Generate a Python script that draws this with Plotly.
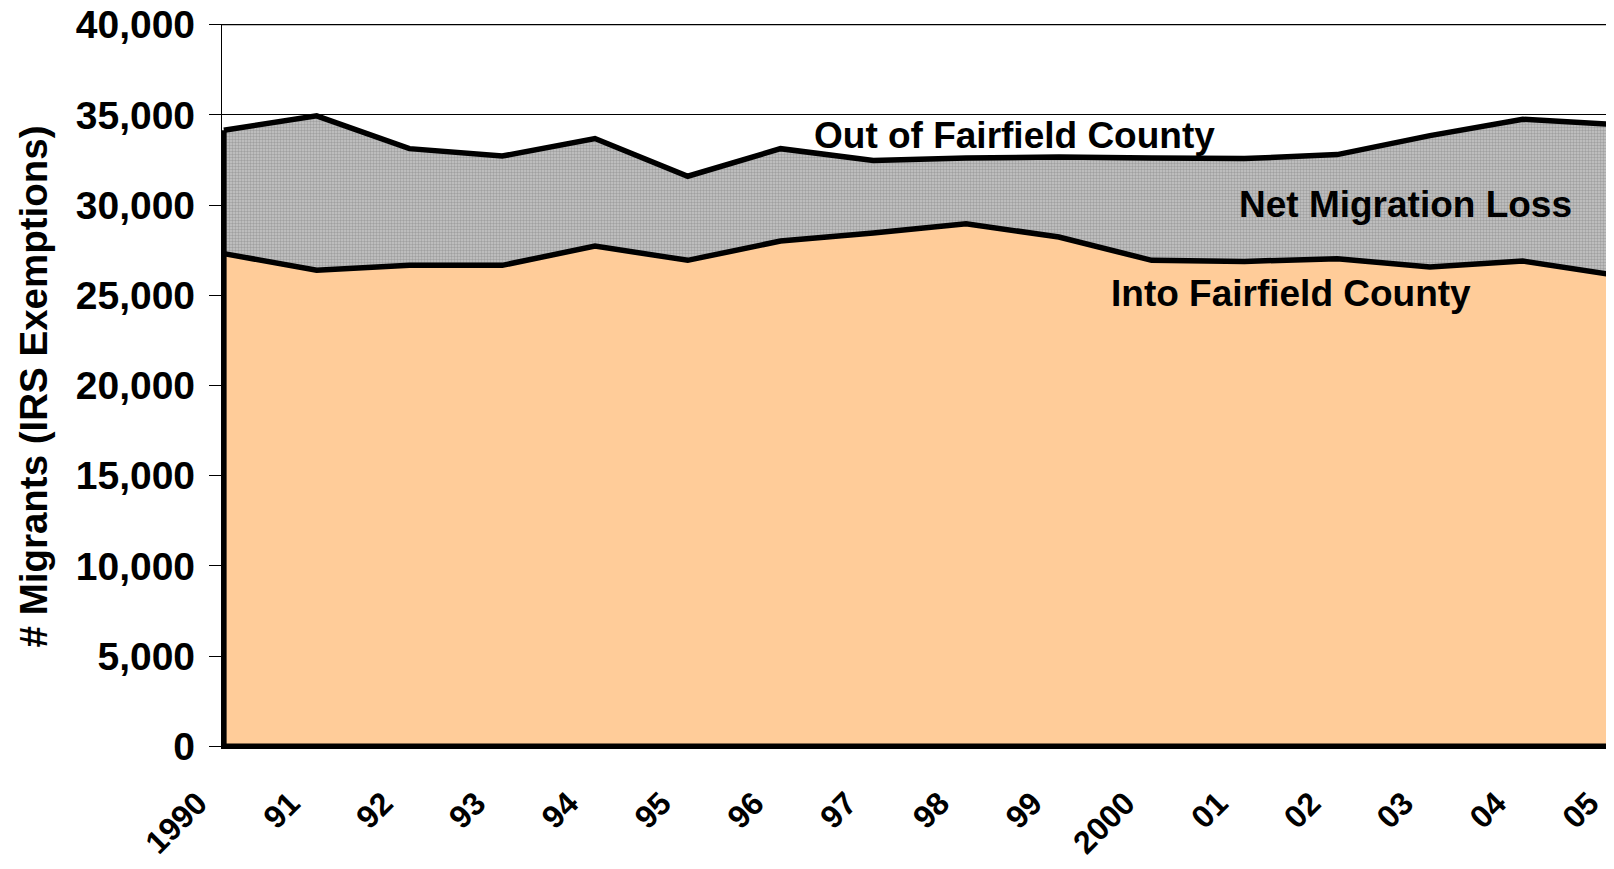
import plotly.graph_objects as go

# ---- data ----
years = ["1990", "91", "92", "93", "94", "95", "96", "97", "98", "99",
         "2000", "01", "02", "03", "04", "05"]
into_fairfield = [27310, 26390, 26660, 26660, 27730, 26940, 28010, 28450,
                  28970, 28230, 26940, 26880, 27030, 26570, 26900, 26110]
out_of_fairfield = [34150, 34950, 33130, 32720, 33690, 31600, 33130, 32480,
                    32610, 32670, 32610, 32580, 32800, 33850, 34760, 34460]
y_ticks = [0, 5000, 10000, 15000, 20000, 25000, 30000, 35000, 40000]
y_tick_text = ["0", "5,000", "10,000", "15,000", "20,000", "25,000",
               "30,000", "35,000", "40,000"]

FONT = "Liberation Sans, Arial, sans-serif"
n = len(years)
xs = list(range(n))
LW = 5.5

fig = go.Figure()

# Into Fairfield County (bottom area fill)
fig.add_trace(go.Scatter(
    x=[0] + xs + [n - 1, 0],
    y=[0] + into_fairfield + [0, 0],
    mode="none", fill="toself", fillcolor="#FFCC99",
    hoverinfo="skip", showlegend=False,
))

# Net migration loss band (between out-of and into)
fig.add_trace(go.Scatter(
    x=xs + xs[::-1] + [0],
    y=out_of_fairfield + into_fairfield[::-1] + [out_of_fairfield[0]],
    mode="none", fill="toself", fillcolor="#B8B8B8",
    fillpattern=dict(shape=".", fgcolor="#7a7a7a", bgcolor="#c6c6c6",
                     size=3, solidity=0.5),
    hoverinfo="skip", showlegend=False,
))

# black outlines
line_style = dict(color="black", width=LW)
fig.add_trace(go.Scatter(x=xs, y=out_of_fairfield, mode="lines",
                         line=line_style, hoverinfo="skip", showlegend=False))
fig.add_trace(go.Scatter(x=xs, y=into_fairfield, mode="lines",
                         line=line_style, hoverinfo="skip", showlegend=False))
fig.add_trace(go.Scatter(x=[n - 1, 0, 0], y=[0, 0, out_of_fairfield[0]],
                         mode="lines", line=line_style, hoverinfo="skip",
                         showlegend=False))

ann_font = dict(family=FONT, size=37, color="black", weight="bold")
fig.add_annotation(x=8.52, y=33850, text="Out of Fairfield County",
                   showarrow=False, font=ann_font)
fig.add_annotation(x=12.74, y=30030, text="Net Migration Loss",
                   showarrow=False, font=ann_font)
fig.add_annotation(x=11.50, y=25100, text="Into Fairfield County",
                   showarrow=False, font=ann_font)

# top gridline at the axis maximum (plotly skips the edge gridline)
fig.add_shape(type="line", xref="paper", x0=0, x1=1, yref="y",
              y0=y_ticks[-1], y1=y_ticks[-1],
              line=dict(color="black", width=1.3), layer="above")

fig.update_layout(
    width=1614, height=869,
    margin=dict(l=214, r=0, t=15.5, b=128, autoexpand=False),
    paper_bgcolor="white", plot_bgcolor="white",
    font=dict(family=FONT, color="black"),
    xaxis=dict(
        range=[-0.02, 15.07], tickmode="array", tickvals=xs, ticktext=years,
        tickangle=-45, ticks="", showgrid=False, zeroline=False,
        showline=False, automargin=False,
        tickfont=dict(family=FONT, size=32, color="black", weight="bold"),
        ticklabelshift=-26, ticklabelstandoff=28,
    ),
    yaxis=dict(
        range=[-150, 40040], tickmode="array", tickvals=y_ticks,
        ticktext=y_tick_text, ticks="outside", ticklen=12, tickwidth=1.3,
        tickcolor="black", showgrid=True, gridcolor="black", gridwidth=1.3,
        zeroline=False, showline=True, linecolor="black", linewidth=1.3,
        automargin=False, ticklabelstandoff=6, ticklabeloverflow="allow",
        tickfont=dict(family=FONT, size=39, color="black", weight="bold"),
        title=dict(text="# Migrants (IRS Exemptions)", standoff=16,
                   font=dict(family=FONT, size=38.5, color="black",
                             weight="bold")),
    ),
)

fig.write_html("out.html")
